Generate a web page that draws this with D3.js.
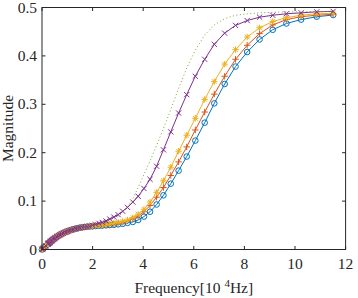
<!DOCTYPE html>
<html>
<head>
<meta charset="utf-8">
<script src="https://cdn.jsdelivr.net/npm/d3@7"></script>
<style>
  body { margin: 0; background: #fff; }
  text { font-family: "Liberation Serif", "Times New Roman", serif; fill: #262626; }
</style>
</head>
<body>
<script>
// frequency in 10^4 Hz, low part is shared by all curves (they overlap there)
var freqLow = [0, 0.02, 0.05, 0.1, 0.15, 0.23, 0.24, 0.26, 0.27, 0.29, 0.31, 0.33, 0.35, 0.37, 0.39,
  0.41, 0.44, 0.46, 0.49, 0.52, 0.55, 0.58, 0.62, 0.66, 0.70, 0.74, 0.78, 0.83, 0.88, 0.93,
  0.99, 1.05, 1.11, 1.18, 1.25, 1.33, 1.41, 1.49, 1.58, 1.68, 1.78, 1.89];
var lowMag = [0, 0.001, 0.0025, 0.005, 0.0075, 0.0112, 0.0117, 0.0126, 0.0131, 0.014, 0.0149, 0.0158, 0.0167, 0.0176, 0.0185,
  0.0194, 0.0207, 0.0215, 0.0227, 0.0239, 0.025, 0.0261, 0.0275, 0.0288, 0.0301, 0.0313, 0.0324, 0.0337, 0.0349, 0.036,
  0.0373, 0.0385, 0.0396, 0.0408, 0.0419, 0.043, 0.044, 0.0449, 0.0457, 0.0465, 0.0471, 0.0477];

var freqHigh = [2.00, 2.12, 2.25, 2.38, 2.53, 2.68, 2.84, 3.01, 3.19, 3.38, 3.59, 3.80, 4.03, 4.27, 4.53, 4.80,
  5.09, 5.40, 5.72, 6.06, 6.43, 6.81, 7.22, 7.65, 8.11, 8.60, 9.12, 9.66, 10.24, 10.86, 11.51];

var blueHigh = [0.048, 0.0485, 0.049, 0.0495, 0.050, 0.0505, 0.051, 0.052, 0.053, 0.055, 0.057, 0.061, 0.068, 0.078, 0.093, 0.112,
  0.136, 0.163, 0.192, 0.225, 0.262, 0.302, 0.342, 0.378, 0.408, 0.434, 0.454, 0.467, 0.475, 0.481, 0.4845];
var redHigh = [0.0485, 0.049, 0.0495, 0.050, 0.0508, 0.0515, 0.0525, 0.054, 0.056, 0.059, 0.063, 0.069, 0.078, 0.091, 0.108, 0.128,
  0.153, 0.181, 0.212, 0.247, 0.284, 0.321, 0.358, 0.393, 0.422, 0.446, 0.464, 0.475, 0.481, 0.484, 0.486];
var yellowHigh = [0.049, 0.0495, 0.050, 0.051, 0.052, 0.053, 0.0545, 0.056, 0.058, 0.061, 0.066, 0.073, 0.083, 0.098, 0.118, 0.142,
  0.170, 0.203, 0.236, 0.271, 0.310, 0.347, 0.383, 0.413, 0.439, 0.458, 0.471, 0.479, 0.484, 0.487, 0.488];
var purpleHigh = [0.050, 0.052, 0.054, 0.056, 0.059, 0.063, 0.067, 0.072, 0.079, 0.087, 0.098, 0.110, 0.126, 0.145, 0.172, 0.206,
  0.243, 0.282, 0.320, 0.358, 0.393, 0.424, 0.447, 0.463, 0.473, 0.480, 0.484, 0.487, 0.489, 0.491, 0.492];
var dottedHigh = [0.049, 0.050, 0.051, 0.053, 0.055, 0.058, 0.062, 0.068, 0.076, 0.088, 0.105, 0.128, 0.155, 0.183, 0.215, 0.250,
  0.289, 0.333, 0.375, 0.412, 0.443, 0.464, 0.477, 0.484, 0.487, 0.489, 0.490, 0.491, 0.491, 0.492, 0.492];

var xTicks = [0, 2, 4, 6, 8, 10, 12];
var yTicks = [0, 0.1, 0.2, 0.3, 0.4, 0.5];

var freq = freqLow.concat(freqHigh);
var series = [
  { name: "blue", color: "#0072BD", marker: "o", mag: lowMag.concat(blueHigh) },
  { name: "red", color: "#D95319", marker: "+", mag: lowMag.concat(redHigh) },
  { name: "yellow", color: "#EDB120", marker: "*", mag: lowMag.concat(yellowHigh) },
  { name: "purple", color: "#7E2F8E", marker: "x", mag: lowMag.concat(purpleHigh) },
  { name: "dotted", color: "#77AC30", marker: null, mag: lowMag.concat(dottedHigh) }
];

var svgWidth = 358, svgHeight = 298;
var margin = { top: 7.5, right: 12.4, bottom: 48.5, left: 42 };
var w = svgWidth - margin.left - margin.right;
var h = svgHeight - margin.top - margin.bottom;
var fontSize = "15.5px";

var svg = d3.select("body").append("svg")
  .attr("width", svgWidth)
  .attr("height", svgHeight);

var g = svg.append("g").attr("transform", "translate(" + margin.left + "," + margin.top + ")");

var x = d3.scaleLinear().domain([0, 12]).range([0, w]);
var y = d3.scaleLinear().domain([0, 0.5]).range([h, 0]);

var line = d3.line()
  .x(function (d) { return x(d[0]); })
  .y(function (d) { return y(d[1]); });

series.forEach(function (s) {
  var pts = freq.map(function (f, i) { return [f, s.mag[i]]; });
  var sg = g.append("g").attr("class", "series-" + s.name);
  sg.append("path")
    .datum(pts)
    .attr("d", line)
    .attr("fill", "none")
    .attr("stroke", s.color)
    .attr("stroke-width", 1)
    .attr("stroke-dasharray", s.marker ? null : "1,2.5");

  if (!s.marker) return;
  var m = sg.selectAll("g.m").data(pts).enter().append("g")
    .attr("class", "m")
    .attr("transform", function (d) { return "translate(" + x(d[0]) + "," + y(d[1]) + ")"; })
    .attr("stroke", s.color)
    .attr("stroke-width", 1)
    .attr("fill", "none");
  if (s.marker === "o") {
    m.append("circle").attr("r", 2.8);
  } else if (s.marker === "+") {
    m.append("path").attr("d", "M-3.2,0H3.2M0,-3.2V3.2");
  } else if (s.marker === "x") {
    m.append("path").attr("d", "M-2.6,-2.6L2.6,2.6M-2.6,2.6L2.6,-2.6");
  } else if (s.marker === "*") {
    m.append("path").attr("d", "M-3.2,0H3.2M0,-3.2V3.2M-2.3,-2.3L2.3,2.3M-2.3,2.3L2.3,-2.3");
  }
});

// box and ticks (MATLAB style, ticks inside on all sides)
var axisColor = "#262626";
g.append("rect")
  .attr("x", 0).attr("y", 0).attr("width", w).attr("height", h)
  .attr("fill", "none").attr("stroke", axisColor).attr("stroke-width", 1);

var tickLen = 3.5;
xTicks.forEach(function (t) {
  g.append("line").attr("x1", x(t)).attr("x2", x(t)).attr("y1", h).attr("y2", h - tickLen)
    .attr("stroke", axisColor);
  g.append("line").attr("x1", x(t)).attr("x2", x(t)).attr("y1", 0).attr("y2", tickLen)
    .attr("stroke", axisColor);
  g.append("text")
    .attr("x", x(t)).attr("y", h + 19)
    .attr("text-anchor", "middle")
    .style("font-size", fontSize)
    .text(t);
});
yTicks.forEach(function (t) {
  g.append("line").attr("x1", 0).attr("x2", tickLen).attr("y1", y(t)).attr("y2", y(t))
    .attr("stroke", axisColor);
  g.append("line").attr("x1", w).attr("x2", w - tickLen).attr("y1", y(t)).attr("y2", y(t))
    .attr("stroke", axisColor);
  g.append("text")
    .attr("x", -5).attr("y", y(t) + 5)
    .attr("text-anchor", "end")
    .style("font-size", fontSize)
    .text(t);
});

// axis labels
var xl = svg.append("text")
  .attr("x", margin.left + w / 2)
  .attr("y", 293)
  .attr("text-anchor", "middle")
  .style("font-size", fontSize);
xl.append("tspan").text("Frequency[10 ");
xl.append("tspan").attr("dy", -6).style("font-size", "11px").text("4");
xl.append("tspan").attr("dy", 6).text("Hz]");

svg.append("text")
  .attr("transform", "translate(13," + (margin.top + h / 2) + ") rotate(-90)")
  .attr("text-anchor", "middle")
  .style("font-size", fontSize)
  .text("Magnitude");
</script>
</body>
</html>
